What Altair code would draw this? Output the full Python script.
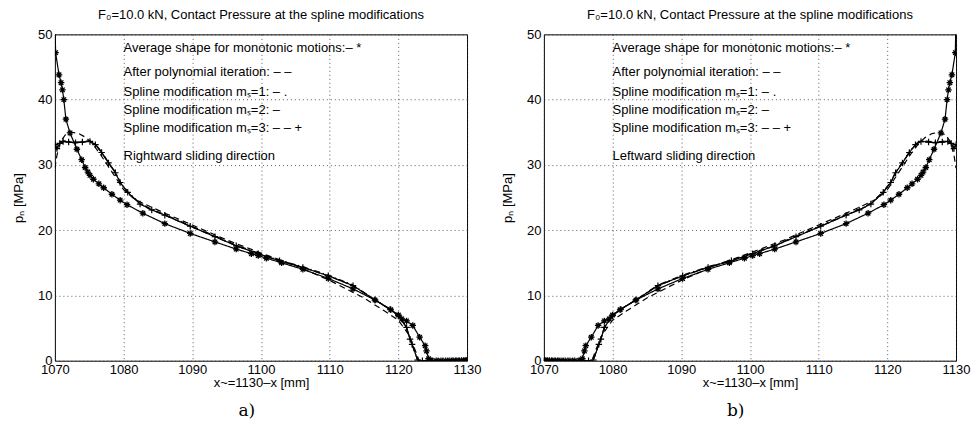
import altair as alt
import pandas as pd

x_ticks = [1070, 1080, 1090, 1100, 1110, 1120, 1130]
y_ticks = [0, 5, 10, 15, 20, 25, 30, 35, 40, 45, 50]

title_text = "F\u2080=10.0 kN, Contact Pressure at the spline modifications"

# ---- average shape for monotonic motions (same pressures in both panels)
avg_p = [53.0, 47.2, 43.8, 42.6, 41.5, 40.0, 37.0, 34.9, 32.4, 30.8, 29.6, 28.9, 28.4, 27.8,
         27.1, 26.5, 25.5, 24.6, 23.9, 22.6, 21.0, 19.5, 18.2, 17.1, 16.4, 16.1, 15.7,
         15.0, 14.0, 12.6, 11.0, 9.3, 7.8, 7.0, 6.4, 6.1, 5.4, 3.6, 2.3, 1.5, 0.3,
         0.0, 0.0, 0.0, 0.0, 0.0, 0.0, 0.0, 0.0, 0.0, 0.0, 0.0, 0.0, 0.0]
avg_x_L = [1070.0, 1070.1, 1070.6, 1070.9, 1071.1, 1071.3, 1071.6, 1072.2, 1073.2, 1073.9, 1074.4,
           1074.8, 1075.1, 1075.6, 1076.4, 1077.1, 1078.3, 1079.5, 1080.5, 1082.8, 1086.0,
           1089.7, 1093.3, 1096.4, 1098.6, 1099.6, 1100.8, 1103.0, 1106.1, 1109.8, 1113.4,
           1116.6, 1118.9, 1120.0, 1120.5, 1121.2, 1122.1, 1123.1, 1123.9, 1124.1, 1124.4,
           1124.8, 1125.5, 1126.2, 1126.9, 1127.5, 1128.0, 1128.5, 1128.9, 1129.2, 1129.5,
           1129.7, 1129.9, 1130.0]
avg_x_R = [1130.0, 1129.9, 1129.4, 1129.1, 1128.9, 1128.7, 1128.4, 1127.8, 1126.8, 1126.1, 1125.6,
           1125.2, 1124.9, 1124.4, 1123.6, 1122.9, 1121.7, 1120.5, 1119.5, 1117.2, 1114.0,
           1110.3, 1106.7, 1103.6, 1101.4, 1100.4, 1099.2, 1097.0, 1093.9, 1090.2, 1086.6,
           1083.4, 1081.1, 1080.0, 1079.5, 1078.8, 1077.9, 1076.9, 1076.1, 1075.9, 1075.6,
           1075.2, 1074.5, 1073.8, 1073.1, 1072.5, 1072.0, 1071.5, 1071.1, 1070.8, 1070.5,
           1070.3, 1070.1, 1070.0]

# ---- after polynomial iteration
pol_p = [29.5, 31.5, 33.5, 34.6, 35.0, 34.8, 34.2, 33.2, 31.8, 30.2, 28.6, 26.2, 24.8, 23.9,
         22.6, 20.8, 18.5, 16.5, 14.6, 12.3, 9.6, 7.6, 6.2, 4.0, 1.5, 0.0, 0.0]
pol_x_L = [1070.0, 1070.3, 1070.8, 1071.5, 1072.5, 1073.5, 1074.5, 1075.5, 1076.5, 1077.5,
           1078.5, 1080.0, 1081.5, 1083.3, 1086.0, 1090.0, 1095.0, 1100.0, 1105.0, 1110.0,
           1115.0, 1118.0, 1120.0, 1121.5, 1122.5, 1123.0, 1130.0]
pol_x_R = [1130.0, 1129.7, 1129.2, 1128.5, 1127.5, 1126.5, 1125.5, 1124.5, 1123.5, 1122.5,
           1121.5, 1120.0, 1118.5, 1116.7, 1114.0, 1110.0, 1105.0, 1100.0, 1095.0, 1090.0,
           1085.0, 1082.0, 1080.0, 1078.5, 1077.5, 1077.0, 1070.0]

# ---- spline modifications m_s = 1, 2, 3
sp_x_L = [1070.0, 1070.3, 1070.7, 1071.2, 1072.0, 1073.0, 1074.0, 1075.1, 1075.9, 1076.8,
          1077.8, 1078.8, 1079.5, 1080.6, 1082.4, 1084.1, 1086.0, 1089.7, 1093.3, 1096.4,
          1099.6, 1102.7, 1106.1, 1109.8, 1113.4, 1116.6, 1118.8, 1120.0, 1121.2, 1121.7,
          1122.0, 1122.8, 1123.5, 1124.3, 1125.0, 1125.8, 1126.5, 1127.2, 1127.8, 1128.3,
          1128.8, 1129.2, 1129.5, 1129.8, 1130.0]
sp_x_R = [1130.0, 1129.7, 1129.3, 1128.8, 1128.0, 1127.0, 1126.0, 1124.9, 1124.1, 1123.2,
          1122.2, 1121.2, 1120.5, 1119.4, 1117.6, 1115.9, 1114.0, 1110.3, 1106.7, 1103.6,
          1100.4, 1097.3, 1093.9, 1090.2, 1086.6, 1083.4, 1081.2, 1080.0, 1078.8, 1078.3,
          1078.0, 1077.2, 1076.5, 1075.7, 1075.0, 1074.2, 1073.5, 1072.8, 1072.2, 1071.7,
          1071.2, 1070.8, 1070.5, 1070.2, 1070.0]
ms1_p = [33.2, 32.4, 33.2, 33.7, 33.6, 33.5, 33.6, 33.7, 33.2, 32.0, 30.4, 28.9, 27.4, 25.9,
         24.1, 23.2, 22.4, 20.7, 19.1, 17.7, 16.5, 15.4, 14.4, 13.1, 11.6, 9.3, 7.9, 6.9,
         5.1, 3.3, 2.5, 0.1, 0.0, 0.0, 0.0, 0.0, 0.0, 0.0, 0.0, 0.0, 0.0, 0.0, 0.0, 0.0, 0.0]
ms2_p = [33.0, 32.6, 33.3, 33.6, 33.5, 33.4, 33.5, 33.6, 33.1, 31.9, 30.3, 28.8, 27.3, 25.8,
         24.0, 23.1, 22.3, 20.6, 19.0, 17.6, 16.4, 15.3, 14.3, 13.0, 11.5, 9.3, 7.9, 6.9,
         5.1, 3.3, 2.5, 0.1, 0.0, 0.0, 0.0, 0.0, 0.0, 0.0, 0.0, 0.0, 0.0, 0.0, 0.0, 0.0, 0.0]
ms3_p = [33.1, 32.5, 33.3, 33.6, 33.5, 33.4, 33.5, 33.6, 33.1, 31.9, 30.3, 28.8, 27.3, 25.8,
         24.0, 23.1, 22.3, 20.6, 19.0, 17.6, 16.4, 15.3, 14.3, 13.0, 11.5, 9.3, 7.9, 6.9,
         5.1, 3.3, 2.5, 0.1, 0.0, 0.0, 0.0, 0.0, 0.0, 0.0, 0.0, 0.0, 0.0, 0.0, 0.0, 0.0, 0.0]

legend_lines = ["Average shape for monotonic motions:\u2013 *",
                "After polynomial iteration: \u2013 \u2013",
                "Spline modification m\u209b=1: \u2013 .",
                "Spline modification m\u209b=2: \u2013",
                "Spline modification m\u209b=3: \u2013 \u2013 +"]
legend_p = [47.9, 44.3, 41.1, 38.4, 35.6]
direction_L = "Rightward sliding direction"
direction_R = "Leftward sliding direction"
direction_p = 31.3
text_x = 1080

series_order = ["avg", "pol", "ms1", "ms2", "ms3"]
dashes = [[1, 0], [6, 4], [6, 3, 1, 3], [1, 0], [6, 4]]

FONT = "Liberation Sans"
STAR = "M-1,0L1,0M0,-1L0,1M-0.7,-0.7L0.7,0.7M-0.7,0.7L0.7,-0.7"
PLUS = "M-1,0L1,0M0,-1L0,1"


def frame(xs_avg, xs_pol, xs_sp):
    rows = []
    for x, p in zip(xs_avg, avg_p):
        rows.append(("avg", x, p))
    for x, p in zip(xs_pol, pol_p):
        rows.append(("pol", x, p))
    for name, vals in (("ms1", ms1_p), ("ms2", ms2_p), ("ms3", ms3_p)):
        for x, p in zip(xs_sp, vals):
            rows.append((name, x, p))
    return pd.DataFrame(rows, columns=["series", "x", "p"])


def panel(df, direction, caption):
    xs = alt.X("x:Q", scale=alt.Scale(domain=[1070, 1130], nice=False, zero=False),
               axis=alt.Axis(values=x_ticks, title="x~=1130\u2013x [mm]", grid=True,
                             gridDash=[1, 3], gridColor="#333", gridOpacity=0.8,
                             ticks=False, domain=False, labelFlush=False,
                             labelPadding=3, titlePadding=0, format="d"))
    ys = alt.Y("p:Q", scale=alt.Scale(domain=[0, 50], nice=False),
               axis=alt.Axis(values=y_ticks, title="p\u2099 [MPa]", grid=True,
                             gridDash=[1, 3], gridColor="#333", gridOpacity=0.8,
                             ticks=False, domain=False, labelFlush=False,
                             labelPadding=3, titlePadding=12))
    lines = alt.Chart(df).mark_line(clip=True, strokeWidth=1.2, color="black").encode(
        x=xs, y=ys,
        detail="series:N",
        strokeDash=alt.StrokeDash("series:N", scale=alt.Scale(domain=series_order, range=dashes),
                                  legend=None),
        order="x:Q",
    )
    stars = alt.Chart(df).transform_filter(alt.datum.series == "avg").mark_point(
        shape=STAR, size=42, filled=False, stroke="black", strokeWidth=1.3, clip=True, opacity=1
    ).encode(x="x:Q", y="p:Q")
    pluses = alt.Chart(df).transform_filter(alt.datum.series == "ms3").mark_point(
        shape=PLUS, size=42, filled=False, stroke="black", strokeWidth=1.2, clip=True, opacity=1
    ).encode(x="x:Q", y="p:Q")
    tdf = pd.DataFrame({"x": [text_x] * (len(legend_lines) + 1),
                        "p": legend_p + [direction_p],
                        "t": legend_lines + [direction]})
    texts = alt.Chart(tdf).mark_text(align="left", baseline="middle", font=FONT,
                                     fontSize=13, color="black").encode(
        x="x:Q", y="p:Q", text="t:N")
    chart = alt.layer(lines, stars, pluses, texts).properties(
        width=413, height=327,
        title=alt.Title(title_text, font=FONT, fontSize=13, fontWeight="normal",
                        color="black", frame="group", anchor="middle", offset=6),
    )
    return alt.vconcat(chart).properties(
        title=alt.Title(caption, orient="bottom", font="DejaVu Serif", fontSize=17,
                        fontWeight="normal", color="black", anchor="middle",
                        offset=13)
    )


left = panel(frame(avg_x_L, pol_x_L, sp_x_L), direction_L, "a)")
right = panel(frame(avg_x_R, pol_x_R, sp_x_R), direction_R, "b)")

chart = alt.hconcat(left, right, spacing=19).properties(
    padding={"left": 4, "top": 0, "right": 0, "bottom": 0},
).configure(background="white").configure_view(
    stroke="black", strokeWidth=1
).configure_axis(
    labelFont=FONT, labelFontSize=13, labelColor="black",
    titleFont=FONT, titleFontSize=13, titleColor="black", titleFontWeight="normal",
)

chart.save("out.html", embed_options={"renderer": "svg", "actions": False})
